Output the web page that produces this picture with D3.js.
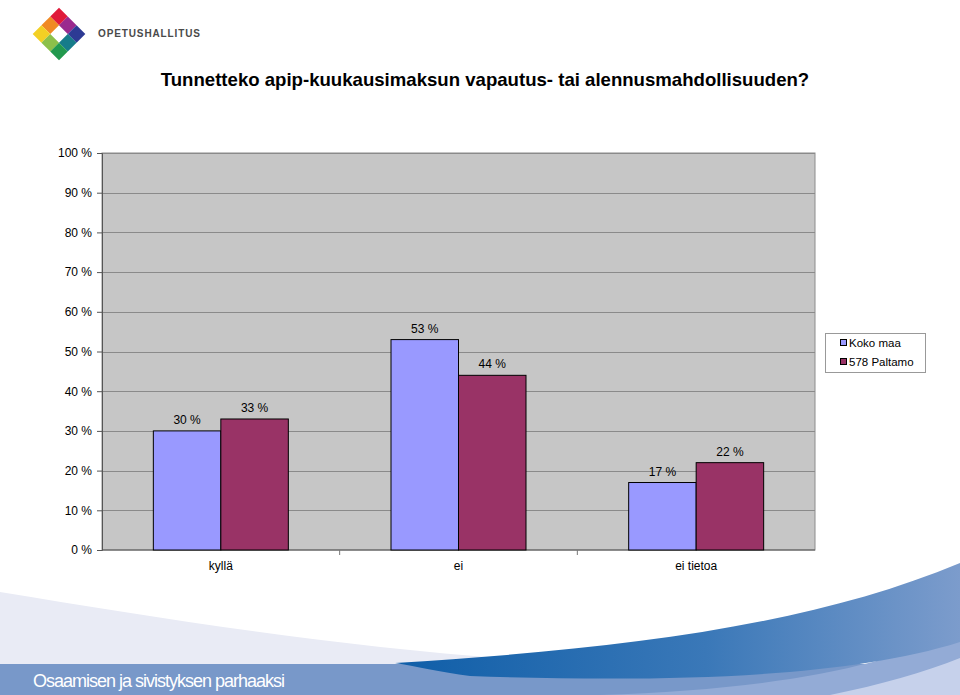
<!DOCTYPE html>
<html>
<head>
<meta charset="utf-8">
<script src="https://cdn.jsdelivr.net/npm/d3@7"></script>
<style>
  body { margin: 0; background: #fff; }
  svg { display: block; font-family: "Liberation Sans", Arial, sans-serif; }
</style>
</head>
<body>
<div id="wrapper"></div>
<script>
// data
const categories = ["kyllä", "ei", "ei tietoa"];
const seriesNames = ["Koko maa", "578 Paltamo"];
const kokoMaa = [30, 53, 17];
const paltamo = [33, 44, 22];
const yTicks = [0, 10, 20, 30, 40, 50, 60, 70, 80, 90, 100];
const colors = ["#9999ff", "#993366"];

function buildChart() {
    const width = 960, height = 695;
    const dim = {
        width: width,
        height: height,
        margin: { top: 153, left: 102, bottom: 145, right: 145 }
    };
    dim.boundedWidth = dim.width - dim.margin.left - dim.margin.right;
    dim.boundedHeight = dim.height - dim.margin.top - dim.margin.bottom;

    const svg = d3.select("#wrapper").append("svg")
        .attr("width", width)
        .attr("height", height);

    // background waves at the bottom
    const bg = svg.append("g");
    const defs = svg.append("defs");
    const grad = defs.append("linearGradient").attr("id", "wave")
        .attr("x1", "0%").attr("x2", "100%").attr("y1", "0%").attr("y2", "0%");
    grad.append("stop").attr("offset", "0%").attr("stop-color", "#0f5ea8");
    grad.append("stop").attr("offset", "55%").attr("stop-color", "#3a78b8");
    grad.append("stop").attr("offset", "100%").attr("stop-color", "#7c9ccc");

    bg.append("path") // light lavender swoosh
        .attr("d", "M0,592 C200,625 420,660 650,666 L650,695 L0,695 Z")
        .attr("fill", "#e9ebf5");
    bg.append("rect") // footer band
        .attr("x", 0).attr("y", 664).attr("width", width).attr("height", 31)
        .attr("fill", "#7898c9");
    bg.append("path") // lighter band under dark wave
        .attr("d", "M600,695 C760,690 880,670 960,630 L960,695 Z")
        .attr("fill", "#93abd6");
    bg.append("path") // dark blue wave
        .attr("d", "M395,663 C600,650 800,630 960,563 L960,642 C840,680 650,682 470,676 C440,672 415,666 395,663 Z")
        .attr("fill", "url(#wave)");
    bg.append("path") // lightest corner
        .attr("d", "M830,695 C880,685 925,672 960,658 L960,695 Z")
        .attr("fill", "#c6d1eb");

    svg.append("text")
        .attr("x", 33).attr("y", 687)
        .attr("fill", "#fff")
        .attr("font-family", "'Liberation Sans Narrow', 'Arial Narrow', 'Liberation Sans', sans-serif")
        .attr("font-size", 18)
        .attr("textLength", 252)
        .text("Osaamisen ja sivistyksen parhaaksi");

    // logo: 3x3 rotated squares, empty centre
    const logo = svg.append("g").attr("transform", "translate(59,34) rotate(45)");
    const s = 12.4;
    const logoColors = [
        ["#e01a3a", "#9a2a8e", "#2d3a94"],
        ["#f08a24", null, "#167c8a"],
        ["#f3d024", "#8cc04a", "#22994e"]
    ];
    logoColors.forEach((row, r) => row.forEach((c, k) => {
        if (!c) return;
        logo.append("rect")
            .attr("x", (k - 1.5) * s).attr("y", (r - 1.5) * s)
            .attr("width", s).attr("height", s)
            .attr("fill", c);
    }));
    svg.append("text")
        .attr("x", 98).attr("y", 37)
        .attr("font-size", 10).attr("font-weight", "bold")
        .attr("fill", "#4a4a4a")
        .attr("textLength", 102)
        .text("OPETUSHALLITUS");

    // title
    svg.append("text")
        .attr("x", 485).attr("y", 86)
        .attr("text-anchor", "middle")
        .attr("font-size", 18.6).attr("font-weight", "bold")
        .text("Tunnetteko apip-kuukausimaksun vapautus- tai alennusmahdollisuuden?");

    const bounded = svg.append("g")
        .attr("transform", `translate(${dim.margin.left},${dim.margin.top})`);

    const yScale = d3.scaleLinear()
        .domain([0, 100])
        .range([dim.boundedHeight, 0]);

    const xScale = d3.scaleBand()
        .domain(categories)
        .range([0, dim.boundedWidth])
        .paddingInner(0.432)
        .paddingOuter(0.216);

    const x1 = d3.scaleBand()
        .domain(seriesNames)
        .range([0, xScale.bandwidth()]);

    // plot area
    bounded.append("rect")
        .attr("width", dim.boundedWidth).attr("height", dim.boundedHeight)
        .attr("fill", "#c6c6c6")
        .attr("stroke", "#8c8c8c").attr("stroke-width", 1);

    bounded.append("g")
        .selectAll("line")
        .data(yTicks.filter(d => d > 0))
        .join("line")
        .attr("x1", 0).attr("x2", dim.boundedWidth)
        .attr("y1", d => Math.round(yScale(d)) + 0.5)
        .attr("y2", d => Math.round(yScale(d)) + 0.5)
        .attr("stroke", "#8a8a8a");

    // y axis
    const yAxis = bounded.append("g")
        .call(d3.axisLeft(yScale).tickValues(yTicks).tickSize(5).tickPadding(5)
            .tickFormat(d => d + " %"));
    yAxis.selectAll("text").attr("font-size", 12).attr("fill", "#000")
        .attr("font-family", "'Liberation Sans', Arial, sans-serif");
    yAxis.selectAll("line").attr("stroke", "#555");
    yAxis.select(".domain").attr("stroke", "#555");

    // x axis
    const xAxis = bounded.append("g")
        .attr("transform", `translate(0,${dim.boundedHeight})`);
    xAxis.append("line")
        .attr("x1", 0).attr("x2", dim.boundedWidth)
        .attr("stroke", "#555");
    xAxis.selectAll(".sep")
        .data(d3.range(1, categories.length))
        .join("line")
        .attr("class", "sep")
        .attr("x1", d => xScale(categories[d]) - xScale.step() * xScale.paddingInner() / 2)
        .attr("x2", d => xScale(categories[d]) - xScale.step() * xScale.paddingInner() / 2)
        .attr("y1", 0).attr("y2", 5)
        .attr("stroke", "#777");
    xAxis.selectAll(".lbl")
        .data(categories)
        .join("text")
        .attr("class", "lbl")
        .attr("x", d => xScale(d) + xScale.bandwidth() / 2)
        .attr("y", 20)
        .attr("text-anchor", "middle")
        .attr("font-size", 12)
        .text(d => d);

    // bars
    const seriesValues = [kokoMaa, paltamo];
    const groups = bounded.append("g")
        .selectAll("g")
        .data(categories)
        .join("g")
        .attr("transform", d => `translate(${xScale(d)},0)`);

    groups.selectAll("rect")
        .data((d, i) => seriesNames.map((n, j) => ({ name: n, value: seriesValues[j][i], j })))
        .join("rect")
        .attr("x", d => x1(d.name))
        .attr("y", d => yScale(d.value))
        .attr("width", x1.bandwidth())
        .attr("height", d => dim.boundedHeight - yScale(d.value))
        .attr("fill", d => colors[d.j])
        .attr("stroke", "#000").attr("stroke-width", 1);

    groups.selectAll("text")
        .data((d, i) => seriesNames.map((n, j) => ({ name: n, value: seriesValues[j][i] })))
        .join("text")
        .attr("x", d => x1(d.name) + x1.bandwidth() / 2)
        .attr("y", d => yScale(d.value) - 7)
        .attr("text-anchor", "middle")
        .attr("font-size", 12)
        .text(d => d.value + " %");

    // legend
    const legend = svg.append("g").attr("transform", "translate(825,333)");
    legend.append("rect")
        .attr("x", 0.5).attr("y", 0.5).attr("width", 100).attr("height", 39)
        .attr("fill", "#fff").attr("stroke", "#999");
    seriesNames.forEach((n, i) => {
        legend.append("rect")
            .attr("x", 15.5).attr("y", 6.5 + i * 19)
            .attr("width", 6).attr("height", 6)
            .attr("fill", colors[i]).attr("stroke", "#000");
        legend.append("text")
            .attr("x", 24).attr("y", 13.5 + i * 19)
            .attr("font-size", 11.5)
            .text(n);
    });
}

buildChart();
</script>
</body>
</html>
